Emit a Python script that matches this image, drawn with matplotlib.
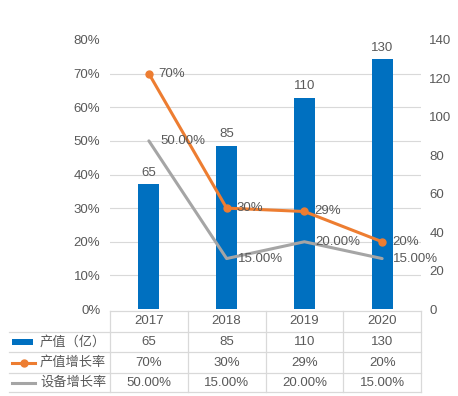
import numpy as np
import matplotlib
matplotlib.use("Agg")
import matplotlib.pyplot as plt
from matplotlib.lines import Line2D
from matplotlib.patches import Rectangle
from matplotlib.transforms import blended_transform_factory

plt.rcParams['font.family'] = ['Liberation Sans', 'Noto Sans CJK SC', 'DejaVu Sans']
plt.rcParams['font.size'] = 9.5

years = ['2017', '2018', '2019', '2020']
产值 = [65, 85, 110, 130]
产值增长率 = [0.70, 0.30, 0.29, 0.20]
设备增长率 = [0.50, 0.15, 0.20, 0.15]
产值标签 = ['65', '85', '110', '130']
增长率标签 = ['70%', '30%', '29%', '20%']
设备标签 = ['50.00%', '15.00%', '20.00%', '15.00%']
行名 = ['产值（亿）', '产值增长率', '设备增长率']

蓝 = '#0070C0'
橙 = '#ED7D31'
灰 = '#A5A5A5'
字色 = '#595959'
线色 = '#D9D9D9'
字号 = 9.5

W, H = 458, 396
fig = plt.figure(figsize=(W / 100, H / 100), dpi=100)
左, 右, 顶, 底 = 110, 421, 40, 309
ax = fig.add_axes([左 / W, 1 - 底 / H, (右 - 左) / W, (底 - 顶) / H])
x = np.arange(len(years))

# bars on the value axis (shown on the right)
ax.bar(x, 产值, width=0.27, color=蓝, zorder=2)
for i, v in enumerate(产值):
    ax.annotate(产值标签[i], (x[i], v), xytext=(0, 4), textcoords='offset points',
                ha='center', va='bottom', color=字色, fontsize=字号)
ax.set_xlim(-0.5, 3.5)
ax.set_ylim(0, 140)
ax.set_yticks(np.arange(0, 141, 20))
ax.set_yticks(np.linspace(0, 140, 9), minor=True)
ax.grid(which='minor', axis='y', color=线色, linewidth=0.8, zorder=0)
ax.set_xticks([])
for s in ax.spines.values():
    s.set_visible(False)

# growth lines on the percent axis (shown on the left)
ax2 = ax.twinx()
ax.yaxis.tick_right()
ax.tick_params(axis='y', which='both', length=0, colors=字色, labelsize=字号, pad=6)
ax2.yaxis.tick_left()
ax2.set_ylim(0, 0.8)
ax2.set_yticks(np.arange(0, 0.81, 0.1))
ax2.set_yticklabels([f'{int(round(t * 100))}%' for t in np.arange(0, 0.81, 0.1)])
ax2.tick_params(axis='y', length=0, colors=字色, labelsize=字号, pad=7)
for s in ax2.spines.values():
    s.set_visible(False)
ax2.plot(x, 设备增长率, color=灰, linewidth=2.2, solid_capstyle='round')
ax2.plot(x, 产值增长率, color=橙, linewidth=2.2, marker='o', markersize=5)
for i in range(len(x)):
    ax2.annotate(增长率标签[i], (x[i], 产值增长率[i]), xytext=(7, 0), textcoords='offset points',
                 ha='left', va='center', color=字色, fontsize=字号)
    ax2.annotate(设备标签[i], (x[i], 设备增长率[i]), xytext=(8, 0), textcoords='offset points',
                 ha='left', va='center', color=字色, fontsize=字号)

# data table under the chart
tr = blended_transform_factory(ax.transData, fig.transFigure)
fy = lambda py: 1 - py / H
行线 = [311, 332, 352, 373, 392]
fig.add_artist(Line2D([-0.5, 3.5], [fy(行线[0])] * 2, transform=tr, color=线色, lw=0.9))
for py in 行线[1:]:
    fig.add_artist(Line2D([9 / W, 右 / W], [fy(py)] * 2, transform=fig.transFigure, color=线色, lw=0.9))
for xv in np.arange(-0.5, 4, 1):
    fig.add_artist(Line2D([xv, xv], [fy(行线[0]), fy(行线[-1])], transform=tr, color=线色, lw=0.9))

中 = [(行线[k] + 行线[k + 1]) / 2 for k in range(4)]
for i, y in enumerate(years):
    fig.text(x[i], fy(中[0]), y, transform=tr, ha='center', va='center', color=字色, fontsize=字号)
    fig.text(x[i], fy(中[1]), 产值标签[i], transform=tr, ha='center', va='center', color=字色, fontsize=字号)
    fig.text(x[i], fy(中[2]), 增长率标签[i], transform=tr, ha='center', va='center', color=字色, fontsize=字号)
    fig.text(x[i], fy(中[3]), 设备标签[i], transform=tr, ha='center', va='center', color=字色, fontsize=字号)

# legend keys in the row headers
fig.add_artist(Rectangle((12 / W, fy(中[1] + 3)), 21 / W, 6 / H, transform=fig.transFigure,
                         color=蓝, lw=0))
fig.add_artist(Line2D([12 / W, 35 / W], [fy(中[2])] * 2, transform=fig.transFigure,
                      color=橙, lw=2.2))
fig.add_artist(Line2D([23.5 / W], [fy(中[2])], transform=fig.transFigure, color=橙,
                      marker='o', markersize=5))
fig.add_artist(Line2D([12 / W, 35 / W], [fy(中[3])] * 2, transform=fig.transFigure,
                      color=灰, lw=2.2))
for k, name in enumerate(行名):
    fig.text(40 / W, fy(中[k + 1]), name, ha='left', va='center', color=字色, fontsize=字号)

fig.savefig('out.png', dpi=100)
